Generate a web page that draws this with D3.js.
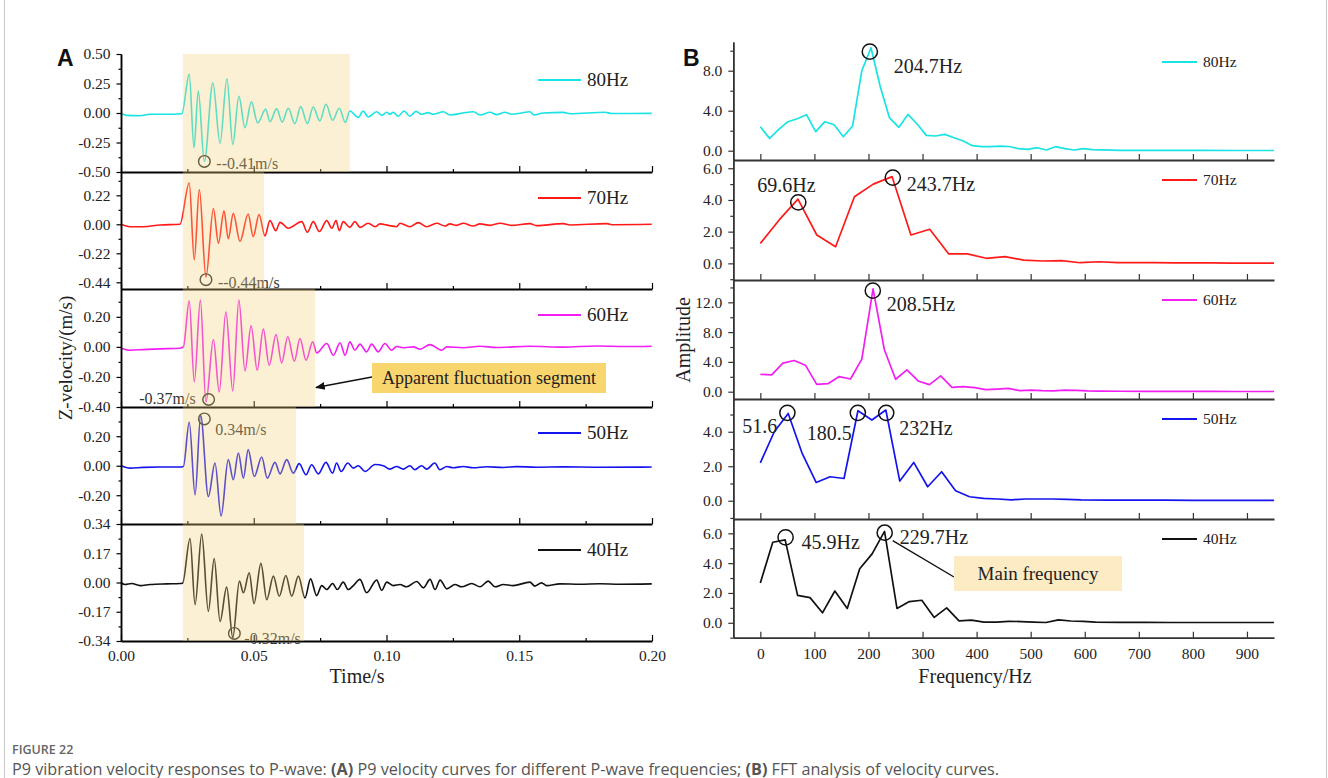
<!DOCTYPE html>
<html>
<head>
<meta charset="utf-8">
<script src="https://cdn.jsdelivr.net/npm/d3@7"></script>
<style>
body{margin:0;background:#fff}
svg{display:block}
</style>
</head>
<body>
<div id="chart"></div>
<script>
// ---------- Data ----------
// Panel A : time (ms) / Z-velocity (m/s)
var timeTicks = [0, 50, 100, 150, 200];
var t80 = [0,2.1,7.2,10.9,17.2,22.9,25.7,27.5,29.1,31.4,34.6,37.3,39.9,42.1,44.4,46.7,49.1,51.5,54.5,56.1,58.6,60.7,63.0,65.5,67.7,70.2,72.4,74.9,77.2,79.7,82.2,84.5,86.2,89.4,91.2,93.1,96.3,98.2,100.1,101.3,102.5,104.4,106.6,108.8,111.1,113.2,115.7,117.6,121.4,123.9,128.8,132.7,135.2,139.0,141.5,144.6,147.1,150.3,154.0,155.5,159.0,166.6,169.1,182.3,184.8,199.9];
var v80 = [-0.005,-0.02,-0.023,-0.011,-0.011,-0.006,0.327,-0.295,0.187,-0.41,0.256,-0.256,0.29,-0.267,0.142,-0.125,0.094,-0.085,0.034,-0.074,0.037,-0.077,0.04,-0.09,0.054,-0.09,0.051,-0.068,0.074,-0.062,0.04,-0.08,0.017,-0.037,0.017,-0.034,0.011,-0.02,0.006,-0.011,0.006,-0.028,0.017,-0.028,0.014,-0.011,0.003,-0.011,0.011,-0.017,0.0,0.011,-0.017,0.006,-0.014,0.006,-0.01,-0.002,0.011,-0.017,0.0,0.005,-0.006,0.006,-0.004,-0.003];
var t70 = [0,3.4,8.4,14.7,22.2,25.7,27.6,29.5,32.0,34.8,36.7,38.8,40.4,42.3,44.8,47.9,49.8,52.0,54.2,56.1,58.3,59.9,63.0,68.1,70.2,72.4,74.7,77.5,79.4,81.0,82.2,83.7,86.2,88.1,90.0,93.1,95.7,97.5,100.7,103.8,105.1,108.8,112.0,115.1,118.9,122.0,123.9,126.4,128.9,132.7,135.2,139.0,142.7,147.1,154.0,156.5,166.6,169.1,182.9,185.4,199.9];
var v70 = [0,-0.018,-0.018,-0.005,0.0,0.314,-0.269,0.264,-0.40,0.12,-0.143,0.103,-0.11,0.083,-0.13,0.078,-0.093,0.075,-0.088,0.028,-0.048,0.015,-0.03,0.02,-0.06,0.02,-0.055,0.028,-0.03,0.028,-0.048,0.02,-0.023,0.02,-0.023,0.008,-0.018,0.003,-0.008,-0.018,0.008,-0.018,0.013,-0.018,0.008,-0.013,0.003,-0.008,0.008,-0.013,0.003,-0.008,0.008,-0.008,0.005,-0.01,0.005,-0.005,0.005,-0.003,0.0];
var t60 = [0,3.4,8.4,14.7,22.2,23.5,25.7,27.6,29.9,32.0,34.8,37.0,39.5,42.1,44.4,46.7,49.0,51.3,53.6,55.8,58.4,60.5,62.8,65.3,67.4,69.7,72.2,73.7,77.5,80.0,82.5,84.4,86.2,88.1,90.0,92.5,94.4,96.9,99.4,101.9,103.8,106.9,110.1,112.6,116.4,120.8,122.7,128.9,135.2,141.5,154.0,166.6,179.1,191.7,199.9];
var v60 = [-0.007,-0.022,-0.018,-0.013,-0.009,0.0,0.307,-0.233,0.311,-0.367,0.049,-0.30,0.233,-0.293,0.311,-0.16,0.14,-0.156,0.118,-0.122,0.082,-0.107,0.067,-0.096,0.056,-0.089,0.033,-0.04,0.022,-0.056,0.027,-0.056,0.033,-0.022,0.018,-0.033,0.018,-0.033,0.022,-0.022,0.002,-0.006,0.0,-0.016,0.015,-0.022,0.0,-0.006,0.004,-0.004,0.004,-0.002,0.006,0.002,0.004];
var t50 = [0,3.4,8.4,14.7,22.2,23.5,25.7,27.9,30.0,32.9,35.4,37.7,40.4,42.3,44.2,46.1,47.9,50.2,53.0,55.1,58.0,59.9,62.4,64.9,67.1,69.7,71.8,74.3,77.2,79.7,81.2,82.9,85.4,87.5,89.4,91.9,95.7,98.8,101.3,103.8,106.3,108.8,110.7,113.2,115.1,118.2,120.1,122.7,125.1,128.9,132.7,137.7,144.0,149.0,156.5,166.6,179.1,199.9];
var v50 = [0,-0.016,-0.011,-0.009,-0.009,-0.005,0.295,-0.198,0.34,-0.209,0.018,-0.341,0.041,-0.095,0.086,-0.084,0.109,-0.073,0.059,-0.084,0.023,-0.055,0.041,-0.05,0.014,-0.061,0.007,-0.055,0.023,-0.05,0.018,-0.039,0.018,-0.016,0.0,-0.039,0.008,0.0,-0.023,-0.005,-0.023,0.0,-0.027,0.0,-0.023,0.018,-0.027,-0.005,-0.014,-0.005,-0.014,-0.007,-0.012,-0.006,-0.01,-0.008,-0.01,-0.009];
var t40 = [0,1.5,4.0,7.2,10.9,17.2,22.2,23.2,26.0,27.9,30.4,32.9,35.1,37.3,39.8,42.1,44.6,46.1,48.3,50.1,52.7,54.9,57.4,59.6,62.1,64.3,66.8,69.3,71.4,73.7,75.6,77.5,79.7,81.5,83.7,85.6,87.5,90.0,92.5,96.3,98.2,100.1,102.6,105.1,107.6,111.4,113.9,116.4,118.3,120.2,122.7,125.8,128.3,132.1,135.2,138.3,140.9,144.0,147.7,154.0,155.9,158.4,160.3,165.3,172.9,180.4,187.9,199.9];
var v40 = [0,-0.012,-0.006,-0.018,-0.012,-0.008,-0.006,-0.004,0.256,-0.129,0.281,-0.168,0.139,-0.227,-0.027,-0.32,0.008,-0.06,0.057,-0.123,0.111,-0.1,0.037,-0.08,0.041,-0.08,0.037,-0.09,0.021,-0.076,-0.018,-0.041,-0.006,-0.041,0.002,-0.041,-0.018,0.018,-0.06,0.014,-0.045,0.002,-0.018,-0.012,-0.025,0.006,-0.031,0.018,-0.041,0.014,-0.037,-0.012,-0.025,-0.006,-0.025,0.008,-0.025,-0.012,-0.018,0.002,-0.021,-0.002,-0.018,-0.008,-0.01,-0.007,-0.01,-0.008];

var seriesNames = ["80Hz", "70Hz", "60Hz", "50Hz", "40Hz"];
var yTicksA = [[-0.5,-0.25,0,0.25,0.5],[-0.44,-0.22,0,0.22],[-0.4,-0.2,0,0.2],[-0.2,0,0.2],[-0.34,-0.17,0,0.17,0.34]];
var yDomainsA = [[-0.5,0.5],[-0.491,0.397],[-0.40,0.385],[-0.395,0.398],[-0.34,0.34]];
var segStart = 23.3;                       // apparent fluctuation segment (ms)
var segEnd = [86.2, 53.9, 73.1, 65.9, 68.9];
var peaksA = [ {t:31.4, v:-0.41, text:"--0.41m/s"}, {t:32.0, v:-0.42, text:"--0.44m/s"},
               {t:33.0, v:-0.35, text:"-0.37m/s"}, {t:31.4, v:0.317, text:"0.34m/s"},
               {t:42.7, v:-0.296, text:"-0.32m/s"} ];

// Panel B : FFT amplitude vs frequency (Hz)
var freqTicks = [0,100,200,300,400,500,600,700,800,900];
var f80 = [0,17.1,34.1,51.2,68.2,85.3,102.4,119.4,136.5,153.5,170.6,187.7,204.7,221.8,238.8,255.9,273,290,307.1,324.1,341.2,358.3,375.3,392.4,409.4,426.5,443.6,460.6,477.7,494.7,511.8,528.9,545.9,563,580,597.1,614.2,665.4,716.5,767.7,818.9,870.1,921.3,950];
var a80 = [2.4,1.23,2.13,2.9,3.2,3.6,1.9,2.9,2.6,1.4,2.47,8.0,10.3,6.4,3.3,2.33,3.63,2.67,1.53,1.47,1.63,1.3,0.97,0.5,0.4,0.4,0.45,0.42,0.2,0.13,0.3,0.07,0.4,0.2,0.07,0.2,0.1,0.03,0.03,0.04,0.03,0.02,0.02,0.02];
var f70 = [0,34.8,69.6,104.4,139.2,174,208.8,243.7,278.5,313.3,348.1,382.9,417.7,452.5,487.3,522.1,556.9,591.6,626.4,661.2,696,730.8,765.6,800.4,835.2,870,904.8,939.6,974.4];
var a70 = [1.26,2.74,4.05,1.79,1.05,4.2,5.0,5.47,1.79,2.15,0.6,0.6,0.32,0.42,0.2,0.15,0.17,0.04,0.1,0.05,0.05,0.04,0.03,0.03,0.03,0.02,0.02,0.02,0.02];
var f60 = [0,20.9,41.7,62.6,83.4,104.3,125.1,146,166.8,187.7,208.5,229.4,250.2,271.1,291.9,312.8,333.6,354.5,375.3,396.2,417,437.9,458.7,479.6,500.4,521.3,542.1,563,583.8,604.7,625.5,667.2,708.9,750.6,792.3,834,875.7,917.4,959.1];
var a60 = [2.34,2.25,3.83,4.19,3.56,0.99,1.08,2.03,1.71,4.37,13.8,5.63,1.67,2.93,1.44,0.95,2.12,0.59,0.68,0.54,0.27,0.35,0.45,0.14,0.22,0.15,0.12,0.2,0.18,0.1,0.08,0.06,0.05,0.05,0.04,0.04,0.03,0.03,0.03];
var f50 = [0,25.8,51.6,77.4,103.2,129,154.8,180.5,206.3,232.1,257.9,283.7,309.5,335.3,361.1,386.9,412.7,438.5,464.3,490.1,515.9,541.7,567.5,593.3,644.9,696.5,748.1,799.7,851.3,902.9,954.5];
var a50 = [2.2,4.0,5.06,2.74,1.06,1.39,1.29,5.22,4.68,5.26,1.14,2.22,0.81,1.68,0.58,0.23,0.14,0.1,0.05,0.1,0.1,0.1,0.08,0.05,0.04,0.03,0.03,0.02,0.02,0.02,0.02];
var f40 = [0,23,45.9,68.9,91.9,114.9,137.8,160.8,183.8,206.7,229.7,252.7,275.6,298.6,321.6,344.6,367.5,390.5,413.5,436.4,459.4,482.4,505.4,528.3,551.3,574.3,597.2,620.2,666.1,712.1,758,804,850,895.9,941.9,964.9];
var a40 = [2.67,5.4,5.56,1.84,1.69,0.67,2.13,0.96,3.62,4.62,6.13,0.96,1.42,1.51,0.36,1.0,0.13,0.18,0.04,0.05,0.1,0.08,0.05,0.02,0.2,0.12,0.1,0.05,0.03,0.03,0.02,0.02,0.02,0.02,0.02,0.02];

var yTicksB = [[0,4,8],[0,2,4,6],[0,4,8,12],[0,2,4],[0,2,4,6]];
var yDomainsB = [[-0.93,10.87],[-1.05,6.52],[-0.98,15.0],[-1.06,5.9],[-1.0,6.96]];
var peaksB = [
  [{f:202.5, a:9.9, text:"204.7Hz"}],
  [{f:70.2, a:3.85, text:"69.6Hz"}, {f:245, a:5.41, text:"243.7Hz"}],
  [{f:208, a:13.57, text:"208.5Hz"}],
  [{f:50, a:5.1, text:"51.6"}, {f:180.3, a:5.1, text:"180.5"}, {f:232.8, a:5.1, text:"232Hz"}],
  [{f:46.7, a:5.73, text:"45.9Hz"}, {f:230, a:6.04, text:"229.7Hz"}]
];

// ---------- Layout ----------
var W = 1328, H = 778;
var serif = "'Liberation Serif','Times New Roman',serif";
var colors = ["#19e3e3", "#ff1a1a", "#f21ef2", "#1414ee", "#111111"];

var topsA = [54, 172, 289, 407, 524], bottomA = 641;
var topsB = [42, 160, 280, 399, 519], bottomB = 637.7;
// label offsets from circle centers (screen px)
var offA = [[12,2,"start"],[12,3,"start"],[-13,-1,"end"],[11,11,"start"],[10,5,"start"]];
var offB = [[[24,15,"start"]],[[-41,-17,"start"],[14,7,"start"]],[[14,14,"start"]],
            [[-45,14,"start"],[-51,21,"start"],[13,16,"start"]],[[16,5,"start"],[15,5,"start"]]];

var svg = d3.select("#chart").append("svg")
  .attr("width", W).attr("height", H)
  .attr("font-family", serif);

// figure frame
svg.append("line").attr("x1",4.5).attr("x2",4.5).attr("y1",0).attr("y2",H).attr("stroke","#c8c8c8");
svg.append("line").attr("x1",1326.5).attr("x2",1326.5).attr("y1",0).attr("y2",H).attr("stroke","#c8c8c8");

function minorOf(ticks, dom){
  var step = ticks[1]-ticks[0], out = [];
  for (var v = ticks[0]-step/2; v <= dom[1]+1e-9; v += step) if (v >= dom[0]-1e-9) out.push(v);
  return out;
}
function styleAxis(g, col){
  g.select(".domain").attr("stroke", col).attr("stroke-width", 1.5);
  g.selectAll(".tick line").attr("stroke", col).attr("stroke-width", 1.2);
  g.attr("font-family", serif).attr("font-size", 15.5);
  g.selectAll(".tick text").attr("fill", "#222");
}

// ================= Panel A =================
var xA = d3.scaleLinear().domain([0, 200]).range([121, 652]);
var seriesA = [[t80,v80],[t70,v70],[t60,v60],[t50,v50],[t40,v40]];
var gA = svg.append("g");
var overlayA = [];

seriesA.forEach(function(s, i){
  var top = topsA[i], bot = (i < 4) ? topsA[i+1] : bottomA;
  var y = d3.scaleLinear().domain(yDomainsA[i]).range([bot, top]);
  var g = gA.append("g");

  var line = d3.line().x(function(d){ return xA(d[0]); }).y(function(d){ return y(d[1]); })
    .curve(d3.curveMonotoneX);
  g.append("path").datum(d3.zip(s[0], s[1]))
    .attr("d", line).attr("fill","none").attr("stroke", colors[i]).attr("stroke-width", 1.6);

  // left axis
  var ax = g.append("g").attr("transform","translate(121,0)")
    .call(d3.axisLeft(y).tickValues(yTicksA[i]).tickSize(4.5).tickSizeOuter(0).tickPadding(6)
      .tickFormat(function(d){ return d.toFixed(2); }));
  styleAxis(ax, "#000");
  var axm = g.append("g").attr("transform","translate(121,0)")
    .call(d3.axisLeft(y).tickValues(minorOf(yTicksA[i], yDomainsA[i])).tickSize(2.5).tickSizeOuter(0).tickFormat(""));
  styleAxis(axm, "#000");

  // bottom line + inward ticks
  var bx = g.append("g").attr("transform","translate(0,"+bot+")")
    .call(d3.axisBottom(xA).tickValues(timeTicks).tickSize(-6).tickSizeOuter(0).tickPadding(9)
      .tickFormat(i === 4 ? function(d){ return (d/1000).toFixed(2); } : ""));
  styleAxis(bx, "#000");
  bx.select(".domain").attr("stroke-width", 2.2);
  var bxm = g.append("g").attr("transform","translate(0,"+bot+")")
    .call(d3.axisBottom(xA).tickValues([25,75,125,175]).tickSize(-3).tickSizeOuter(0).tickFormat(""));
  styleAxis(bxm, "#000");
  bxm.select(".domain").remove();

  // legend
  var ly = top + 26;
  g.append("line").attr("x1",538).attr("x2",581).attr("y1",ly).attr("y2",ly)
    .attr("stroke", colors[i]).attr("stroke-width", 1.8);
  g.append("text").attr("x",587).attr("y",ly).attr("dy","0.34em")
    .attr("font-size",19).attr("fill","#222").text(seriesNames[i]);

  // peak annotation
  var pk = peaksA[i], cx = xA(pk.t), cy = y(pk.v);
  g.append("circle").attr("cx",cx).attr("cy",cy).attr("r",5.8)
    .attr("fill","none").attr("stroke","#222").attr("stroke-width",1.4);
  g.append("text").attr("x",cx+offA[i][0]).attr("y",cy+offA[i][1]).attr("dy","0.32em")
    .attr("text-anchor",offA[i][2]).attr("font-size",16).attr("fill","#333").text(pk.text);

  overlayA.push({x0:xA(segStart), x1:xA(segEnd[i]), y0:top, y1:bot});
});

// translucent highlight of the apparent fluctuation segment (drawn over the curves)
gA.selectAll("rect.seg").data(overlayA).enter().append("rect")
  .attr("x", function(d){ return d.x0; }).attr("y", function(d){ return d.y0; })
  .attr("width", function(d){ return d.x1-d.x0; }).attr("height", function(d){ return d.y1-d.y0; })
  .attr("fill","#f7cf78").attr("fill-opacity",0.32);

// axis titles A
svg.append("text").attr("transform","translate(65,358) rotate(-90)").attr("text-anchor","middle")
  .attr("dy","0.35em").attr("font-size",19).attr("fill","#222").text("Z-velocity/(m/s)");
svg.append("text").attr("x",357).attr("y",683).attr("text-anchor","middle")
  .attr("font-size",20).attr("fill","#222").text("Time/s");
svg.append("text").attr("x",57).attr("y",66).attr("font-family","'Liberation Sans',Arial,sans-serif")
  .attr("font-weight","bold").attr("font-size",23).attr("fill","#111").text("A");

// callout "Apparent fluctuation segment"
svg.append("defs").append("marker").attr("id","arr").attr("viewBox","0 0 10 10")
  .attr("refX",9).attr("refY",5).attr("markerWidth",7).attr("markerHeight",7).attr("orient","auto")
  .append("path").attr("d","M0,1 L10,5 L0,9 Z").attr("fill","#111");
svg.append("line").attr("x1",372).attr("y1",377).attr("x2",316).attr("y2",387.5)
  .attr("stroke","#111").attr("stroke-width",1.4).attr("marker-end","url(#arr)");
svg.append("rect").attr("x",372).attr("y",363).attr("width",234).attr("height",30).attr("fill","#f9d56e");
svg.append("text").attr("x",489).attr("y",378).attr("dy","0.34em").attr("text-anchor","middle")
  .attr("font-size",18).attr("fill","#222").text("Apparent fluctuation segment");

// ================= Panel B =================
var xB = d3.scaleLinear().domain([-50, 950]).range([733.3, 1274]);
var seriesB = [[f80,a80],[f70,a70],[f60,a60],[f50,a50],[f40,a40]];
var gB = svg.append("g");

seriesB.forEach(function(s, i){
  var top = topsB[i], bot = (i < 4) ? topsB[i+1] : bottomB;
  var y = d3.scaleLinear().domain(yDomainsB[i]).range([bot, top]);
  var g = gB.append("g");

  svg.select("defs").append("clipPath").attr("id","clipB"+i)
    .append("rect").attr("x",733.3).attr("y",top).attr("width",1274-733.3).attr("height",bot-top);

  var line = d3.line().x(function(d){ return xB(d[0]); }).y(function(d){ return y(d[1]); });
  g.append("path").datum(d3.zip(s[0], s[1])).attr("clip-path","url(#clipB"+i+")")
    .attr("d", line).attr("fill","none").attr("stroke", colors[i]).attr("stroke-width", 1.7)
    .attr("stroke-linejoin","round");

  var ax = g.append("g").attr("transform","translate(733.3,0)")
    .call(d3.axisLeft(y).tickValues(yTicksB[i]).tickSize(5).tickSizeOuter(0).tickPadding(6)
      .tickFormat(function(d){ return d.toFixed(1); }));
  styleAxis(ax, "#333");
  var axm = g.append("g").attr("transform","translate(733.3,0)")
    .call(d3.axisLeft(y).tickValues(minorOf(yTicksB[i], yDomainsB[i])).tickSize(3).tickSizeOuter(0).tickFormat(""));
  styleAxis(axm, "#333");

  var bx = g.append("g").attr("transform","translate(0,"+bot+")")
    .call(d3.axisBottom(xB).tickValues(freqTicks).tickSize(-6).tickSizeOuter(0).tickPadding(10)
      .tickFormat(i === 4 ? function(d){ return d; } : ""));
  styleAxis(bx, "#333");
  bx.select(".domain").attr("stroke-width", 1.8);

  var ly = top + 20;
  g.append("line").attr("x1",1162).attr("x2",1197).attr("y1",ly).attr("y2",ly)
    .attr("stroke", colors[i]).attr("stroke-width", 1.8);
  g.append("text").attr("x",1203).attr("y",ly).attr("dy","0.34em")
    .attr("font-size",15.5).attr("fill","#222").text(seriesNames[i]);

  peaksB[i].forEach(function(pk, j){
    var cx = xB(pk.f), cy = y(pk.a), o = offB[i][j];
    g.append("circle").attr("cx",cx).attr("cy",cy).attr("r",7.6)
      .attr("fill","none").attr("stroke","#111").attr("stroke-width",1.5);
    g.append("text").attr("x",cx+o[0]).attr("y",cy+o[1]).attr("dy","0.32em")
      .attr("text-anchor",o[2]).attr("font-size",20).attr("fill","#222").text(pk.text);
    if (i === 4 && j === 1) {
      // leader to the "Main frequency" box
      g.append("line").attr("x1",cx+8).attr("y1",cy+8).attr("x2",954).attr("y2",577)
        .attr("stroke","#111").attr("stroke-width",1.4);
    }
  });
});

svg.append("rect").attr("x",954).attr("y",556).attr("width",168).attr("height",35).attr("fill","#fdebc3");
svg.append("text").attr("x",1038).attr("y",574).attr("dy","0.34em").attr("text-anchor","middle")
  .attr("font-size",19).attr("fill","#222").text("Main frequency");

svg.append("text").attr("transform","translate(683,340) rotate(-90)").attr("text-anchor","middle")
  .attr("dy","0.35em").attr("font-size",20).attr("fill","#222").text("Amplitude");
svg.append("text").attr("x",975).attr("y",683).attr("text-anchor","middle")
  .attr("font-size",20).attr("fill","#222").text("Frequency/Hz");
svg.append("text").attr("x",683).attr("y",66).attr("font-family","'Liberation Sans',Arial,sans-serif")
  .attr("font-weight","bold").attr("font-size",23).attr("fill","#111").text("B");

// ================= Caption =================
var sans = "'Open Sans','Noto Sans',sans-serif";
svg.append("text").attr("x",12).attr("y",754).attr("font-family",sans).attr("font-size",12.5)
  .attr("font-weight",600).attr("fill","#666").text("FIGURE 22");
var cap = svg.append("text").attr("x",12).attr("y",774.5).attr("font-family",sans)
  .attr("font-size",16.2).attr("fill","#555");
cap.append("tspan").text("P9 vibration velocity responses to P-wave: ");
cap.append("tspan").attr("font-weight",700).text("(A)");
cap.append("tspan").text(" P9 velocity curves for different P-wave frequencies; ");
cap.append("tspan").attr("font-weight",700).text("(B)");
cap.append("tspan").text(" FFT analysis of velocity curves.");
</script>
</body>
</html>
